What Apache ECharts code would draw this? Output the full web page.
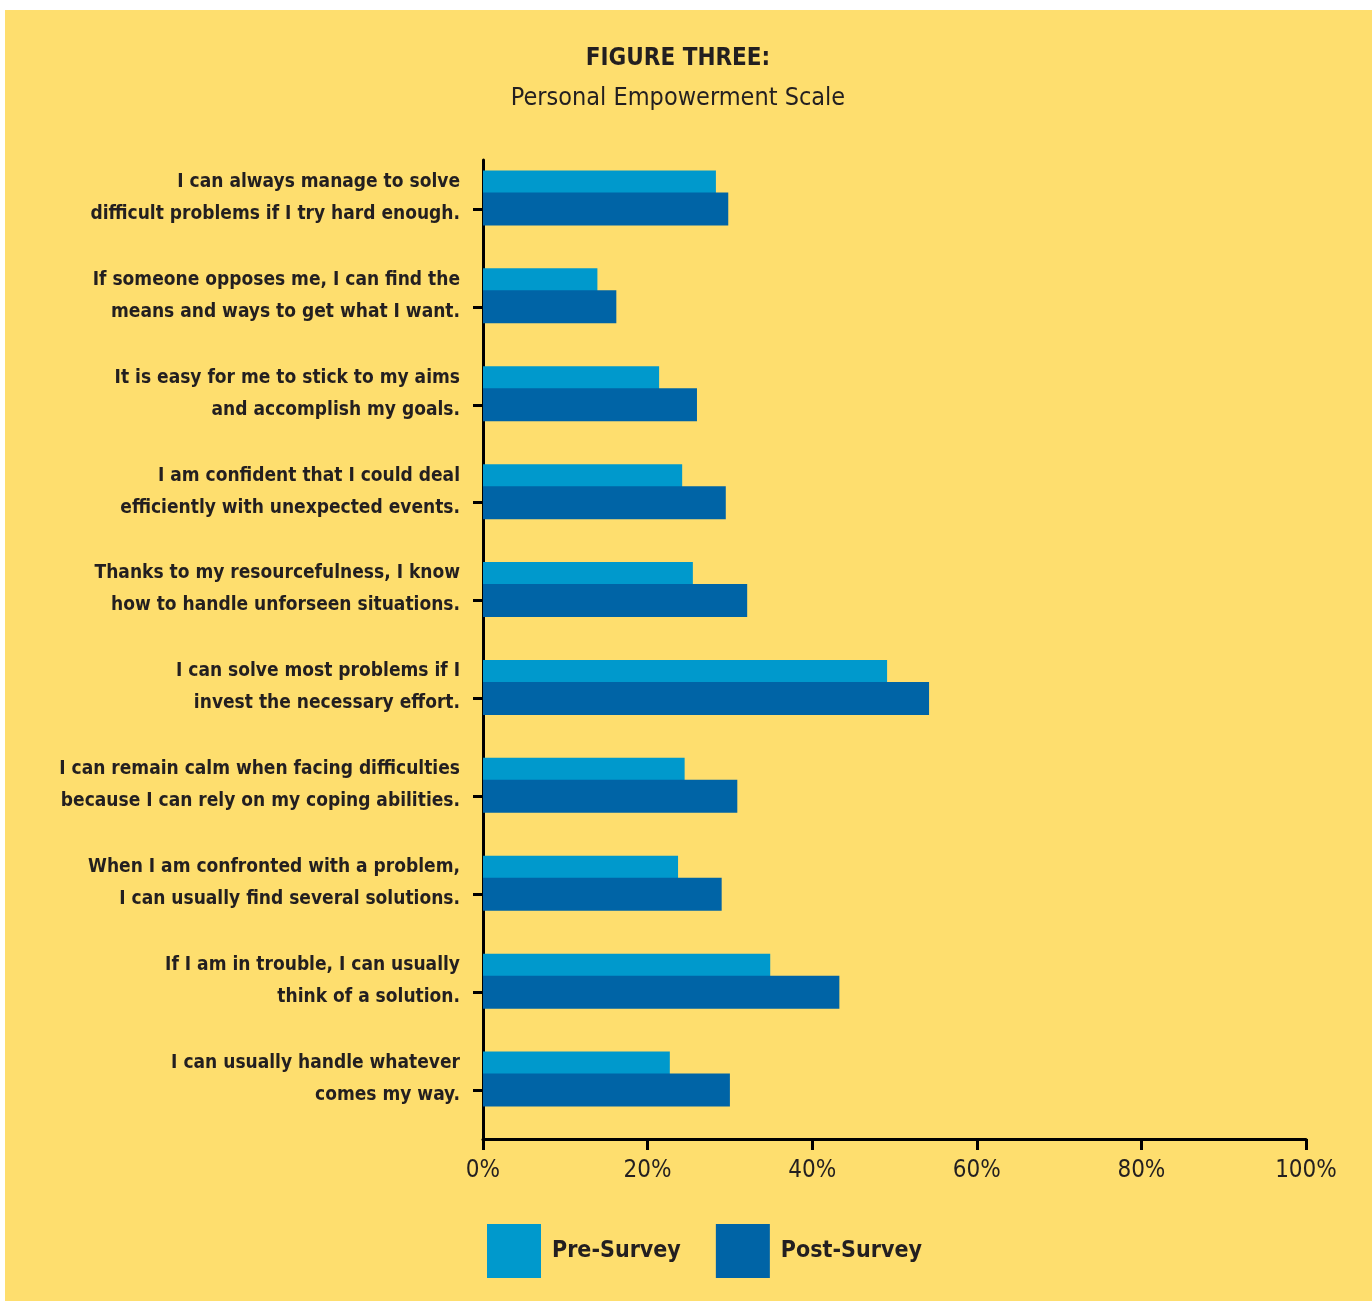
<!DOCTYPE html>
<html>
<head>
<meta charset="utf-8">
<script src="https://cdn.jsdelivr.net/npm/echarts@6/dist/echarts.min.js"></script>
<style>
  html, body { margin: 0; padding: 0; background: #fff; }
  #chart {
    position: absolute;
    left: 5px;
    top: 10px;
    width: 1367px;
    height: 1291px;
  }
</style>
</head>
<body>
<div id="chart"></div>
<script>
const statements = [
  'I can always manage to solve\ndifficult problems if I try hard enough.',
  'If someone opposes me, I can find the\nmeans and ways to get what I want.',
  'It is easy for me to stick to my aims\nand accomplish my goals.',
  'I am confident that I could deal\nefficiently with unexpected events.',
  'Thanks to my resourcefulness, I know\nhow to handle unforseen situations.',
  'I can solve most problems if I\ninvest the necessary effort.',
  'I can remain calm when facing difficulties\nbecause I can rely on my coping abilities.',
  'When I am confronted with a problem,\nI can usually find several solutions.',
  'If I am in trouble, I can usually\nthink of a solution.',
  'I can usually handle whatever\ncomes my way.'
]
const preSurvey = [28.3, 13.9, 21.4, 24.2, 25.5, 49.1, 24.5, 23.7, 34.9, 22.7]
const postSurvey = [29.8, 16.2, 26.0, 29.5, 32.1, 54.2, 30.9, 29.0, 43.3, 30.0]
const xTicks = [0, 20, 40, 60, 80, 100]

const FONT = '"Liberation Sans Narrow", "DejaVu Sans Condensed", "Noto Sans", sans-serif'
const INK = '#231f20'

const chart = echarts.init(document.getElementById('chart'))

chart.setOption({
  backgroundColor: '#fede6e',
  animation: false,
  textStyle: { fontFamily: FONT, color: INK },
  title: {
    text: 'FIGURE THREE:',
    subtext: 'Personal Empowerment Scale',
    left: 668,
    textAlign: 'center',
    top: 32,
    itemGap: 15,
    textStyle: { fontFamily: FONT, fontSize: 24, fontWeight: 'bold', color: INK },
    subtextStyle: { fontFamily: FONT, fontSize: 25, color: INK }
  },
  legend: {
    data: ['Pre-Survey', 'Post-Survey'],
    left: 482,
    top: 1214,
    padding: 0,
    icon: 'rect',
    itemWidth: 54,
    itemHeight: 54,
    itemGap: 35,
    textStyle: { fontFamily: FONT, fontSize: 23, fontWeight: 'bold', color: INK, padding: [0, 0, 0, 6] }
  },
  grid: { left: 478, right: 66, top: 150, bottom: 162, outerBoundsMode: 'none', containLabel: false },
  xAxis: {
    type: 'value',
    min: xTicks[0],
    max: xTicks[xTicks.length - 1],
    interval: 20,
    axisLine: { show: true, lineStyle: { color: '#000', width: 3 } },
    axisTick: { show: true, length: 11, lineStyle: { color: '#000', width: 3 } },
    splitLine: { show: false },
    axisLabel: {
      formatter: '{value}%',
      fontFamily: FONT,
      fontSize: 24,
      color: INK,
      margin: 20
    }
  },
  yAxis: {
    type: 'category',
    data: statements,
    inverse: true,
    axisLine: { show: true, lineStyle: { color: '#000', width: 3 } },
    axisTick: { show: true, alignWithLabel: true, length: 10, lineStyle: { color: '#000', width: 3 } },
    axisLabel: {
      interval: 0,
      showMinLabel: true,
      showMaxLabel: true,
      hideOverlap: false,
      fontFamily: FONT,
      fontSize: 19,
      fontWeight: 'bold',
      lineHeight: 32,
      color: INK,
      margin: 23,
      align: 'right',
      // a short empty third line lifts the two text lines above the tick
      formatter: (v) => v + '\n{g| }',
      rich: { g: { lineHeight: 22, fontSize: 10 } }
    }
  },
  series: [
    {
      name: 'Pre-Survey',
      type: 'bar',
      data: preSurvey,
      barWidth: 33,
      barGap: '-33.3%',
      itemStyle: { color: '#0099cc' }
    },
    {
      name: 'Post-Survey',
      type: 'bar',
      data: postSurvey,
      barWidth: 33,
      barGap: '-33.3%',
      itemStyle: { color: '#0064a6' }
    },
    {
      // empty spacer so the post bar sits centred on each tick
      name: 'spacer',
      type: 'bar',
      data: [],
      barWidth: 33,
      barGap: '-33.3%',
      silent: true
    }
  ]
})
</script>
</body>
</html>
